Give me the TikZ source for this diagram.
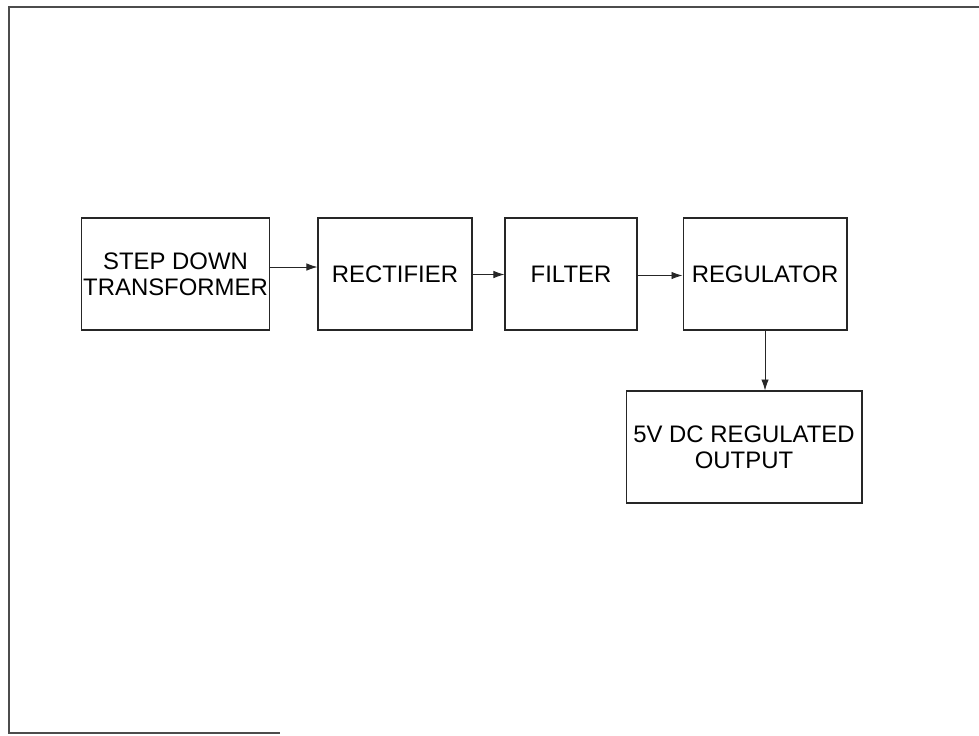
\documentclass[tikz,border=0pt]{standalone}
\usepackage{fontspec}
\setmainfont{Liberation Sans}
\usetikzlibrary{positioning,arrows.meta}

\begin{document}
\begin{tikzpicture}[x=0.02cm, y=-0.02cm,
  block/.style={rectangle, draw=black!85, line width=0.6pt, minimum height=2.24cm,
    inner sep=0pt, align=center, font=\fontsize{13.6}{15}\selectfont},
  link/.style={-{Latex[length=2.2mm,width=1.5mm]}, draw=black!85, line width=0.5pt},
  frame/.style={draw=black!70, line width=0.6pt}]
  \useasboundingbox (0,0) rectangle (979,735);
  \draw[frame] (979,7) -- (9,7) -- (9,733) -- (280,733);
  % blocks of the supply chain
  \node[block, minimum width=3.76cm] (trans) at (175.5,274) {STEP DOWN\\TRANSFORMER};
  \node[block, minimum width=3.08cm] (rect) at (395,274) {RECTIFIER};
  \node[block, minimum width=2.64cm] (filt) at (571,274) {FILTER};
  \node[block, minimum width=3.28cm] (reg) at (765,274) {REGULATOR};
  \node[block, minimum width=4.72cm] (out) at (744,447) {5V DC REGULATED\\OUTPUT};
  % connectors
  \draw[link] ([yshift=1.4mm]trans.east) -- ([yshift=1.4mm]trans.east -| rect.west);
  \draw[link] ([yshift=-0.1mm]rect.east) -- ([yshift=-0.1mm]rect.east -| filt.west);
  \draw[link] ([yshift=-0.3mm]filt.east) -- ([yshift=-0.3mm]filt.east -| reg.west);
  \draw[link] (reg.south) -- (reg.south |- out.north);
\end{tikzpicture}
\end{document}
